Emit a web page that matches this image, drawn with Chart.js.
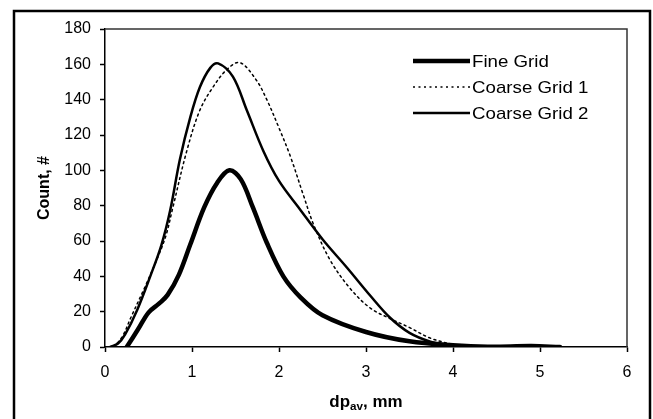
<!DOCTYPE html>
<html>
<head>
<meta charset="utf-8">
<script src="https://cdn.jsdelivr.net/npm/chart.js@4.4.0/dist/chart.umd.min.js"></script>
<style>
html,body{margin:0;padding:0;background:#fff}
#wrap{width:653px;height:419px}
</style>
</head>
<body>
<div id="wrap"><canvas id="myChart" width="653" height="419"></canvas></div>
<script>
// values
const seriesNames = ['Fine Grid', 'Coarse Grid 1', 'Coarse Grid 2'];

const fineX = [0.25, 0.38, 0.5, 0.62, 0.72, 0.85, 0.98, 1.14, 1.29, 1.43, 1.56, 1.7, 1.86, 2.05, 2.25, 2.5, 3.0, 3.5, 4.0, 4.4, 4.9, 5.23];
const fineY = [0, 10, 19.5, 24.5, 29.5, 41, 58, 79, 93, 100, 95, 79, 59, 40, 28, 18, 8.5, 3.2, 1, 0.2, 0.5, 0];

const coarse1X = [0.1, 0.2, 0.3, 0.45, 0.6, 0.7, 0.78, 0.94, 1.09, 1.24, 1.4, 1.55, 1.74, 1.86, 2.0, 2.13, 2.28, 2.4, 2.59, 2.82, 3.05, 3.28, 3.5, 3.74, 4.0, 4.2];
const coarse1Y = [0, 6, 17, 33, 50, 63, 79, 111, 134, 147, 157, 161, 151, 140, 124, 108, 86, 69, 49, 33, 22, 16, 11, 5, 1.5, 0];

const coarse2X = [0.06, 0.15, 0.23, 0.37, 0.52, 0.65, 0.75, 0.86, 0.98, 1.09, 1.21, 1.3, 1.47, 1.63, 1.82, 2.0, 2.24, 2.5, 2.78, 3.05, 3.28, 3.5, 3.74, 3.97, 4.3];
const coarse2Y = [0, 2, 7, 21, 40, 58, 77.5, 106, 130, 147, 158, 160.5, 153, 134, 111, 94, 78, 61, 45, 29, 16.4, 8, 3, 0.5, 0];

const xTicks = [0, 1, 2, 3, 4, 5, 6];
const yTicks = [0, 20, 40, 60, 80, 100, 120, 140, 160, 180];

function pts(xs, ys) {
    return xs.map((x, i) => ({x: x, y: ys[i]}));
}

const FONT = "'Liberation Sans', Arial, sans-serif";

// text in the source image is a little wider than tall
function wideText(c, txt, x, y, sx) {
    c.save();
    c.translate(x, y);
    c.scale(sx, 1);
    c.fillText(txt, 0, 0);
    c.restore();
}

let framePlugin = {
    id: 'frame',
    beforeDraw(chart) {
        let c = chart.ctx;
        c.save();
        c.fillStyle = '#fff';
        c.fillRect(0, 0, chart.width, chart.height);
        c.strokeStyle = '#000';
        c.lineWidth = 2.5;
        c.beginPath();
        c.moveTo(14, 419);
        c.lineTo(14, 11);
        c.lineTo(650, 11);
        c.lineTo(650, 419);
        c.stroke();
        c.restore();
    },
    beforeDatasetsDraw(chart) {
        let a = chart.chartArea, c = chart.ctx;
        c.save();
        c.strokeStyle = '#333';
        c.lineWidth = 1.5;
        c.beginPath();
        c.moveTo(a.left, a.top);
        c.lineTo(a.right, a.top);
        c.lineTo(a.right, a.bottom);
        c.stroke();
        c.restore();
    },
    afterDraw(chart) {
        let a = chart.chartArea, c = chart.ctx;
        c.save();
        c.fillStyle = '#000';
        // y title
        c.font = 'bold 16px ' + FONT;
        c.textAlign = 'center';
        c.textBaseline = 'middle';
        c.translate(45, (a.top + a.bottom) / 2);
        c.rotate(-Math.PI / 2);
        c.fillText('Count, #', 0, 0);
        c.setTransform(1, 0, 0, 1, 0, 0);
        // x title with subscript
        let sx = 1.06;
        let big = 'bold 16px ' + FONT, small = 'bold 11px ' + FONT;
        c.textAlign = 'left';
        c.textBaseline = 'alphabetic';
        c.font = big;
        let w1 = c.measureText('dp').width * sx, w3 = c.measureText(', mm').width * sx;
        c.font = small;
        let w2 = c.measureText('av').width * sx;
        let x0 = (a.left + a.right) / 2 - (w1 + w2 + w3) / 2, yb = 407;
        c.font = big; wideText(c, 'dp', x0, yb, sx);
        c.font = small; wideText(c, 'av', x0 + w1, yb + 3, sx);
        c.font = big; wideText(c, ', mm', x0 + w1 + w2, yb, sx);
        // legend
        chart.data.datasets.forEach((ds, i) => {
            let y = 61 + i * 26;
            c.strokeStyle = ds.borderColor;
            c.lineWidth = ds.borderWidth;
            c.setLineDash(ds.borderDash || []);
            c.beginPath();
            c.moveTo(413, y);
            c.lineTo(470, y);
            c.stroke();
            c.setLineDash([]);
            c.font = '17px ' + FONT;
            c.textBaseline = 'middle';
            wideText(c, ds.label, 472, y + 1, 1.1);
        });
        c.restore();
    }
};

const ctx = document.getElementById('myChart');
new Chart(ctx, {
    type: 'line',
    data: {
        datasets: [{
            label: seriesNames[0],
            data: pts(fineX, fineY),
            borderColor: '#000',
            borderWidth: 4.5
        }, {
            label: seriesNames[1],
            data: pts(coarse1X, coarse1Y),
            borderColor: '#000',
            borderWidth: 1.5,
            borderDash: [2, 3.5]
        }, {
            label: seriesNames[2],
            data: pts(coarse2X, coarse2Y),
            borderColor: '#000',
            borderWidth: 2.5
        }]
    },
    options: {
        responsive: false,
        devicePixelRatio: 1,
        animation: false,
        layout: {padding: {left: 0, top: 29, right: 26, bottom: 0}},
        elements: {
            point: {radius: 0},
            line: {tension: 0.35, fill: false, borderJoinStyle: 'round', borderCapStyle: 'round'}
        },
        plugins: {
            legend: {display: false},
            tooltip: {enabled: false}
        },
        scales: {
            x: {
                type: 'linear',
                min: 0,
                max: 6,
                afterBuildTicks: s => { s.ticks = xTicks.map(v => ({value: v})); },
                afterFit: s => { s.height = 72; },
                ticks: {color: '#000', font: {family: FONT, size: 16}, padding: 11, maxRotation: 0},
                grid: {drawOnChartArea: false, color: '#000', tickLength: 5, tickWidth: 1.5},
                border: {color: '#000', width: 1.5}
            },
            y: {
                min: 0,
                max: 180,
                afterBuildTicks: s => { s.ticks = yTicks.map(v => ({value: v})); },
                afterFit: s => { s.width = 105; },
                ticks: {color: '#000', font: {family: FONT, size: 16}, padding: 9},
                grid: {drawOnChartArea: false, color: '#000', tickLength: 5, tickWidth: 1.5},
                border: {color: '#000', width: 1.5}
            }
        }
    },
    plugins: [framePlugin]
});
</script>
</body>
</html>
